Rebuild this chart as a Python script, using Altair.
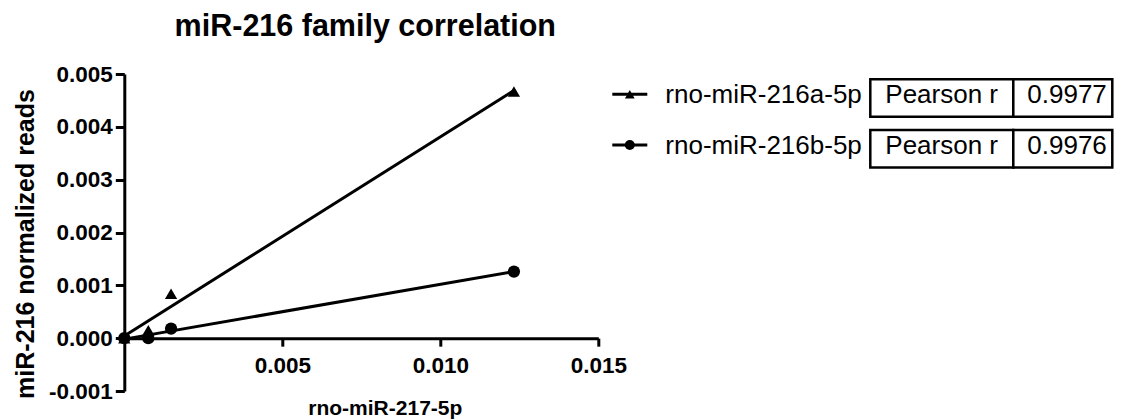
import altair as alt
import pandas as pd

# ---- data ----
x_values = [0.0, 0.00076, 0.00148, 0.01233]          # rno-miR-217-5p
a_values = [0.0, 0.00015, 0.00084, 0.00467]          # rno-miR-216a-5p
b_values = [0.0, 0.0, 0.00018, 0.00126]              # rno-miR-216b-5p
series_names = ["rno-miR-216a-5p", "rno-miR-216b-5p"]
pearson_r = ["0.9977", "0.9976"]
shapes = ["triangle-up", "circle"]
x_ticks = [0.005, 0.010, 0.015]
y_ticks = [-0.001, 0.0, 0.001, 0.002, 0.003, 0.004, 0.005]
chart_title = "miR-216 family correlation"
x_title = "rno-miR-217-5p"
y_title = "miR-216 normalized reads"

rows = []
for name, vals in zip(series_names, [a_values, b_values]):
    for xv, yv in zip(x_values, vals):
        rows.append({"series": name, "x": xv, "y": yv})
df = pd.DataFrame(rows)

FONT = "Liberation Sans"
W, H = 474, 317
LEFT, TOP = 124.3, 74
LABEL_EXPR = ("datum.value < 0 ? '-' + format(-datum.value, '.3f') "
              ": format(datum.value, '.3f')")

X = alt.X(
    "x:Q",
    scale=alt.Scale(domain=[0, 0.015], nice=False, zero=False),
    axis=alt.Axis(
        values=x_ticks, labelExpr=LABEL_EXPR, title=x_title, offset=-H / 6.0,
        grid=False, domainColor="black", domainWidth=3, tickColor="black",
        tickWidth=3, tickSize=8, labelFont=FONT, labelFontSize=22.5,
        labelFontWeight="bold", labelColor="black", labelPadding=8,
        titleFont=FONT, titleFontSize=21, titleFontWeight="bold",
        titleColor="black", titleX=260.5, titleY=76,
        titleBaseline="alphabetic", labelFlush=False,
    ),
)
Y = alt.Y(
    "y:Q",
    scale=alt.Scale(domain=[-0.001, 0.005], nice=False, zero=False),
    axis=alt.Axis(
        values=y_ticks, labelExpr=LABEL_EXPR, title=y_title, grid=False,
        domainColor="black", domainWidth=3, tickColor="black", tickWidth=3,
        tickSize=9, labelFont=FONT, labelFontSize=22.5, labelFontWeight="bold",
        labelColor="black", labelPadding=3, labelFlush=False,
        titleFont=FONT, titleFontSize=25, titleFontWeight="bold",
        titleColor="black", titleX=-91, titleY=169.5,
        titleBaseline="alphabetic",
    ),
)
SHAPE = alt.Shape(
    "series:N",
    scale=alt.Scale(domain=series_names, range=shapes),
    legend=None,
)

base = alt.Chart(df)
fit = base.transform_regression("x", "y", groupby=["series"]).mark_line(
    color="black", strokeWidth=3
).encode(x=X, y=Y, detail="series:N")
pts = base.mark_point(filled=True, color="black", opacity=1, size=150).encode(
    x=X, y=Y, shape=SHAPE
)

title_layer = alt.Chart(pd.DataFrame({"t": [chart_title]})).mark_text(
    align="center", baseline="alphabetic", font=FONT, fontSize=30.5,
    fontWeight="bold", color="black"
).encode(x=alt.value(241), y=alt.value(-38), text="t:N")

layers = [fit, pts, title_layer]

ROW0, ROWSTEP = 0.0, 50.7
for i, (name, r, shp) in enumerate(zip(series_names, pearson_r, shapes)):
    off = ROW0 + i * ROWSTEP
    d = pd.DataFrame({"series": [name], "r": [r], "label": ["Pearson r"]})
    c = alt.Chart(d)
    layers.append(
        c.mark_rule(color="black", strokeWidth=3).encode(
            x=alt.value(488), x2=alt.value(523), y=alt.value(20.3 + off)
        )
    )
    layers.append(
        c.mark_point(filled=True, color="black", opacity=1, shape=shp,
                     size=100 if shp == "circle" else 95).encode(
            x=alt.value(505.5), y=alt.value(20.3 + off)
        )
    )
    layers.append(
        c.mark_text(align="left", baseline="alphabetic", font=FONT,
                    fontSize=26, color="black").encode(
            x=alt.value(541), y=alt.value(29.3 + off), text="series:N"
        )
    )
    layers.append(
        c.mark_rect(fill="white", stroke="black", strokeWidth=2.5).encode(
            x=alt.value(746), x2=alt.value(889),
            y=alt.value(5.3 + off), y2=alt.value(42.7 + off)
        )
    )
    layers.append(
        c.mark_rect(fill="white", stroke="black", strokeWidth=2.5).encode(
            x=alt.value(889), x2=alt.value(988),
            y=alt.value(5.3 + off), y2=alt.value(42.7 + off)
        )
    )
    layers.append(
        c.mark_text(align="left", baseline="alphabetic", font=FONT,
                    fontSize=26, color="black").encode(
            x=alt.value(761), y=alt.value(29.3 + off), text="label:N"
        )
    )
    layers.append(
        c.mark_text(align="left", baseline="alphabetic", font=FONT,
                    fontSize=26, color="black").encode(
            x=alt.value(903), y=alt.value(29.3 + off), text="r:N"
        )
    )

chart = alt.layer(*layers).properties(
    width=W,
    height=H,
    autosize="none",
    padding={"left": LEFT, "top": TOP, "right": 1125 - LEFT - W,
             "bottom": 419 - TOP - H},
    background="white",
).configure_view(stroke=None)

chart.save("out.html", embed_options={"renderer": "svg", "actions": False})
